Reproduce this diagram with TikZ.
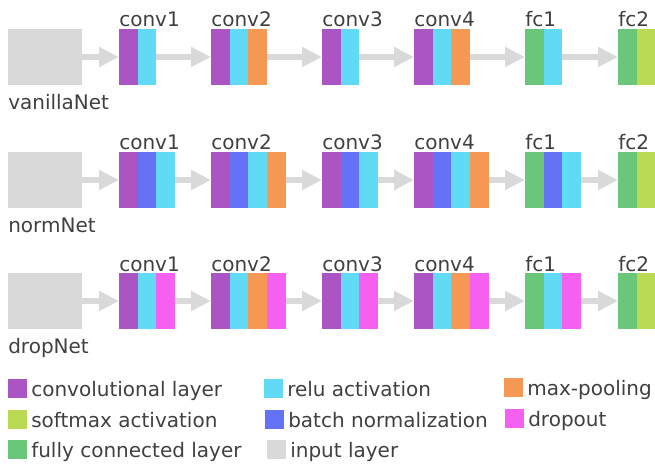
\documentclass[tikz,border=0pt]{standalone}
\usepackage{fontspec}
\setmainfont{DejaVu Sans}
\usetikzlibrary{positioning,arrows.meta}
\definecolor{convc}{RGB}{171,85,196}
\definecolor{reluc}{RGB}{96,218,245}
\definecolor{poolc}{RGB}{245,152,84}
\definecolor{softc}{RGB}{187,218,84}
\definecolor{bnc}{RGB}{100,114,245}
\definecolor{dropc}{RGB}{245,96,240}
\definecolor{fcc}{RGB}{106,198,121}
\definecolor{inputc}{RGB}{217,217,217}
\definecolor{txtc}{RGB}{64,64,64}
\tikzset{
  layer/.style={fill=#1, minimum width=14.025pt, minimum height=42pt, inner sep=0pt, outer sep=0pt, anchor=north west},
  inbox/.style={fill=inputc, minimum width=55.5pt, minimum height=42pt, inner sep=0pt, outer sep=0pt, anchor=north west},
  key/.style={fill=#1, minimum size=14.25pt, inner sep=0pt, outer sep=0pt, anchor=north west},
  flow/.style={draw=inputc, line width=4.5pt, -{Triangle[length=15pt,width=14.25pt]}},
  lbl/.style={inner sep=0pt, anchor=base west},
}

\begin{document}
\begin{tikzpicture}[x=0.75pt,y=-0.75pt,font=\fontsize{15}{18}\selectfont,text=txtc]
  \useasboundingbox (0,0) rectangle (655,463);
  % the three nets, one row each
  \foreach \row/\y/\net/\blocks in {
    v/29/vanillaNet/{conv1/119/{convc,reluc},conv2/211/{convc,reluc,poolc},conv3/322/{convc,reluc},conv4/414/{convc,reluc,poolc},fc1/525/{fcc,reluc},fc2/618/{fcc,softc}},
    n/152/normNet/{conv1/119/{convc,bnc,reluc},conv2/211/{convc,bnc,reluc,poolc},conv3/322/{convc,bnc,reluc},conv4/414/{convc,bnc,reluc,poolc},fc1/525/{fcc,bnc,reluc},fc2/618/{fcc,softc}},
    d/273/dropNet/{conv1/119/{convc,reluc,dropc},conv2/211/{convc,reluc,poolc,dropc},conv3/322/{convc,reluc,dropc},conv4/414/{convc,reluc,poolc,dropc},fc1/525/{fcc,reluc,dropc},fc2/618/{fcc,softc}}}
  {
    \node[inbox] (\row-in) at (8,\y) {};
    \coordinate (\row-in-end) at (\row-in.east);
    \node[lbl] (\row-name) at ([yshift=-18.5pt]\row-in.south west) {\net};
    \foreach \blk/\x/\layers [remember=\blk as \prev (initially in)] in \blocks {
      \foreach \c [count=\i] in \layers {
        \node[layer=\c] (\row-\blk-\i) at ({\x+(\i-1)*18.7},\y) {};
        \coordinate (\row-\blk-end) at (\row-\blk-\i.east);
      }
      \node[lbl] (\row-\blk-lbl) at ([yshift=1.5pt]\row-\blk-1.north west) {\blk};
      \draw[flow] (\row-\prev-end) -- (\row-\blk-1);
    }
  }
  % legend
  \foreach \c/\x/\y/\txt in {convc/8/379/convolutional layer, reluc/264/379/relu activation,
      poolc/504/378/max-pooling, softc/8/410/softmax activation, bnc/265/410/batch normalization,
      dropc/505/409/dropout, fcc/8/440/fully connected layer, inputc/267/440/input layer}
  {
    \node[key=\c] (key-\c) at (\x,\y) {};
    \node[lbl] (key-\c-txt) at ([xshift=3pt,yshift=1.5pt]key-\c.south east) {\txt};
  }
\end{tikzpicture}
\end{document}
